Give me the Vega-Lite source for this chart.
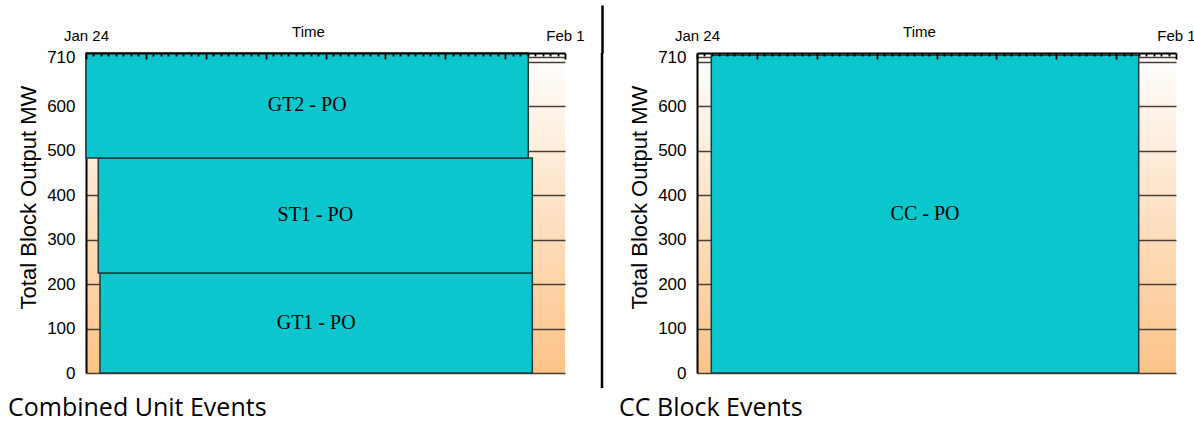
{
  "$schema": "https://vega.github.io/schema/vega-lite/v6.json",
  "background": "white",
  "padding": {"left": 8, "top": 3, "right": 5, "bottom": 0},
  "spacing": 15,
  "config": {
    "view": {"stroke": null},
    "font": "Liberation Sans"
  },
  "hconcat": [
    {
      "width": 479,
      "height": 320,
      "view": {"stroke": null, "fill": {"gradient": "linear", "x1": 0, "y1": 0, "x2": 0, "y2": 1, "stops": [{"offset": 0, "color": "#ffffff"}, {"offset": 1, "color": "#fcc388"}]}},
      "title": {"text": "Combined Unit Events", "orient": "bottom", "anchor": "start", "frame": "group", "dx": -78, "offset": 35, "baseline": "alphabetic", "font": "Open Sans", "fontSize": 25, "fontWeight": "normal", "color": "black"},
      "data": {
        "values": [
          {"label": "GT1 - PO", "start": "2011-01-24T05:36", "end": "2011-01-31T10:54", "lo": 0, "hi": 225},
          {"label": "ST1 - PO", "start": "2011-01-24T04:55", "end": "2011-01-31T10:54", "lo": 225, "hi": 484},
          {"label": "GT2 - PO", "start": "2011-01-24T00:00", "end": "2011-01-31T09:17", "lo": 484, "hi": 720}
        ],
        "format": {"parse": {"start": "date", "end": "date"}}
      },
      "layer": [
        {
          "mark": {"type": "rect", "fill": "#0bc6cc", "stroke": "#1f3b3b", "strokeWidth": 1.5},
          "encoding": {
            "x": {"field": "start", "type": "temporal",
              "scale": {"domain": [{"year": 2011, "month": 1, "date": 24}, {"year": 2011, "month": 2, "date": 1}]},
              "axis": {"orient": "top", "zindex": 1, "tickCount": 100,
                "values": [
                  {"year": 2011, "month": 1, "date": 24, "hours": 0}, {"year": 2011, "month": 1, "date": 24, "hours": 3}, {"year": 2011, "month": 1, "date": 24, "hours": 6}, {"year": 2011, "month": 1, "date": 24, "hours": 9}, {"year": 2011, "month": 1, "date": 24, "hours": 12}, {"year": 2011, "month": 1, "date": 24, "hours": 15}, {"year": 2011, "month": 1, "date": 24, "hours": 18}, {"year": 2011, "month": 1, "date": 24, "hours": 21},
                  {"year": 2011, "month": 1, "date": 25, "hours": 0}, {"year": 2011, "month": 1, "date": 25, "hours": 3}, {"year": 2011, "month": 1, "date": 25, "hours": 6}, {"year": 2011, "month": 1, "date": 25, "hours": 9}, {"year": 2011, "month": 1, "date": 25, "hours": 12}, {"year": 2011, "month": 1, "date": 25, "hours": 15}, {"year": 2011, "month": 1, "date": 25, "hours": 18}, {"year": 2011, "month": 1, "date": 25, "hours": 21},
                  {"year": 2011, "month": 1, "date": 26, "hours": 0}, {"year": 2011, "month": 1, "date": 26, "hours": 3}, {"year": 2011, "month": 1, "date": 26, "hours": 6}, {"year": 2011, "month": 1, "date": 26, "hours": 9}, {"year": 2011, "month": 1, "date": 26, "hours": 12}, {"year": 2011, "month": 1, "date": 26, "hours": 15}, {"year": 2011, "month": 1, "date": 26, "hours": 18}, {"year": 2011, "month": 1, "date": 26, "hours": 21},
                  {"year": 2011, "month": 1, "date": 27, "hours": 0}, {"year": 2011, "month": 1, "date": 27, "hours": 3}, {"year": 2011, "month": 1, "date": 27, "hours": 6}, {"year": 2011, "month": 1, "date": 27, "hours": 9}, {"year": 2011, "month": 1, "date": 27, "hours": 12}, {"year": 2011, "month": 1, "date": 27, "hours": 15}, {"year": 2011, "month": 1, "date": 27, "hours": 18}, {"year": 2011, "month": 1, "date": 27, "hours": 21},
                  {"year": 2011, "month": 1, "date": 28, "hours": 0}, {"year": 2011, "month": 1, "date": 28, "hours": 3}, {"year": 2011, "month": 1, "date": 28, "hours": 6}, {"year": 2011, "month": 1, "date": 28, "hours": 9}, {"year": 2011, "month": 1, "date": 28, "hours": 12}, {"year": 2011, "month": 1, "date": 28, "hours": 15}, {"year": 2011, "month": 1, "date": 28, "hours": 18}, {"year": 2011, "month": 1, "date": 28, "hours": 21},
                  {"year": 2011, "month": 1, "date": 29, "hours": 0}, {"year": 2011, "month": 1, "date": 29, "hours": 3}, {"year": 2011, "month": 1, "date": 29, "hours": 6}, {"year": 2011, "month": 1, "date": 29, "hours": 9}, {"year": 2011, "month": 1, "date": 29, "hours": 12}, {"year": 2011, "month": 1, "date": 29, "hours": 15}, {"year": 2011, "month": 1, "date": 29, "hours": 18}, {"year": 2011, "month": 1, "date": 29, "hours": 21},
                  {"year": 2011, "month": 1, "date": 30, "hours": 0}, {"year": 2011, "month": 1, "date": 30, "hours": 3}, {"year": 2011, "month": 1, "date": 30, "hours": 6}, {"year": 2011, "month": 1, "date": 30, "hours": 9}, {"year": 2011, "month": 1, "date": 30, "hours": 12}, {"year": 2011, "month": 1, "date": 30, "hours": 15}, {"year": 2011, "month": 1, "date": 30, "hours": 18}, {"year": 2011, "month": 1, "date": 30, "hours": 21},
                  {"year": 2011, "month": 1, "date": 31, "hours": 0}, {"year": 2011, "month": 1, "date": 31, "hours": 3}, {"year": 2011, "month": 1, "date": 31, "hours": 6}, {"year": 2011, "month": 1, "date": 31, "hours": 9}, {"year": 2011, "month": 1, "date": 31, "hours": 12}, {"year": 2011, "month": 1, "date": 31, "hours": 15}, {"year": 2011, "month": 1, "date": 31, "hours": 18}, {"year": 2011, "month": 1, "date": 31, "hours": 21},
                  {"year": 2011, "month": 2, "date": 1, "hours": 0}
                ],
                "labelExpr": "timeFormat(datum.value, '%m-%d %H') == '01-24 00' ? 'Jan 24' : (timeFormat(datum.value, '%m-%d %H') == '02-01 00' ? 'Feb 1' : '')",
                "tickSize": -6, "tickWidth": 1.8, "tickColor": "black",
                "tickDash": {"condition": {"test": "hours(datum.value) != 0", "value": [3, 20]}, "value": [10, 0]},
                "domainColor": "black", "domainWidth": 2, "grid": false,
                "labelFontSize": 15, "labelColor": "black", "labelPadding": 16, "labelFlush": false, "labelOverlap": false,
                "title": "Time", "titleFontSize": 15, "titleFontWeight": "normal", "titleColor": "black", "titleX": 222, "titleY": -14}},
            "x2": {"field": "end"},
            "y": {"field": "lo", "type": "quantitative", "scale": {"domain": [0, 720], "nice": false},
              "axis": {"values": [0, 100, 200, 300, 400, 500, 600, 700, 710], "tickCount": 20,
                "labelExpr": "datum.value == 700 ? '' : datum.label",
                "grid": true, "gridColor": "#4a4036", "gridWidth": 1.4, "ticks": false,
                "domainColor": "black", "domainWidth": 2,
                "labelFontSize": 17, "labelColor": "black", "labelPadding": 11, "labelOverlap": false,
                "title": "Total Block Output MW", "titleFontSize": 22, "titleFontWeight": "normal", "titleColor": "black", "titleX": -46, "titleY": 144}},
            "y2": {"field": "hi"}
          }
        },
        {
          "transform": [
            {"fold": ["start", "end"], "as": ["edge", "t"]},
            {"fold": ["lo", "hi"], "as": ["edge2", "v"]},
            {"aggregate": [{"op": "mean", "field": "t", "as": "tm"}, {"op": "mean", "field": "v", "as": "vm"}], "groupby": ["label"]}
          ],
          "mark": {"type": "text", "font": "Liberation Serif", "fontSize": 20, "color": "black"},
          "encoding": {
            "x": {"field": "tm", "type": "temporal"},
            "y": {"field": "vm", "type": "quantitative"},
            "text": {"field": "label"}
          }
        }
      ]
    },
    {
      "width": 1,
      "height": 335,
      "data": {"values": [{"d": 0}]},
      "mark": {"type": "rule", "color": "black", "strokeWidth": 2.5},
      "encoding": {
        "x": {"field": "d", "type": "quantitative", "scale": {"domain": [0, 1]},
          "axis": {"orient": "top", "values": [0], "tickSize": 48, "tickWidth": 2.5, "tickColor": "black", "labels": false, "domain": false, "grid": false, "title": null}}
      }
    },
    {
      "width": 479,
      "height": 320,
      "view": {"stroke": null, "fill": {"gradient": "linear", "x1": 0, "y1": 0, "x2": 0, "y2": 1, "stops": [{"offset": 0, "color": "#ffffff"}, {"offset": 1, "color": "#fcc388"}]}},
      "title": {"text": "CC Block Events", "orient": "bottom", "anchor": "start", "frame": "group", "dx": -78, "offset": 35, "baseline": "alphabetic", "font": "Open Sans", "fontSize": 25, "fontWeight": "normal", "color": "black"},
      "data": {
        "values": [
          {"label": "CC - PO", "start": "2011-01-24T05:44", "end": "2011-01-31T09:03", "lo": 0, "hi": 715}
        ],
        "format": {"parse": {"start": "date", "end": "date"}}
      },
      "layer": [
        {
          "mark": {"type": "rect", "fill": "#0bc6cc", "stroke": "#1f3b3b", "strokeWidth": 1.5},
          "encoding": {
            "x": {"field": "start", "type": "temporal",
              "scale": {"domain": [{"year": 2011, "month": 1, "date": 24}, {"year": 2011, "month": 2, "date": 1}]},
              "axis": {"orient": "top", "zindex": 1, "tickCount": 100,
                "values": [
                  {"year": 2011, "month": 1, "date": 24, "hours": 0}, {"year": 2011, "month": 1, "date": 24, "hours": 3}, {"year": 2011, "month": 1, "date": 24, "hours": 6}, {"year": 2011, "month": 1, "date": 24, "hours": 9}, {"year": 2011, "month": 1, "date": 24, "hours": 12}, {"year": 2011, "month": 1, "date": 24, "hours": 15}, {"year": 2011, "month": 1, "date": 24, "hours": 18}, {"year": 2011, "month": 1, "date": 24, "hours": 21},
                  {"year": 2011, "month": 1, "date": 25, "hours": 0}, {"year": 2011, "month": 1, "date": 25, "hours": 3}, {"year": 2011, "month": 1, "date": 25, "hours": 6}, {"year": 2011, "month": 1, "date": 25, "hours": 9}, {"year": 2011, "month": 1, "date": 25, "hours": 12}, {"year": 2011, "month": 1, "date": 25, "hours": 15}, {"year": 2011, "month": 1, "date": 25, "hours": 18}, {"year": 2011, "month": 1, "date": 25, "hours": 21},
                  {"year": 2011, "month": 1, "date": 26, "hours": 0}, {"year": 2011, "month": 1, "date": 26, "hours": 3}, {"year": 2011, "month": 1, "date": 26, "hours": 6}, {"year": 2011, "month": 1, "date": 26, "hours": 9}, {"year": 2011, "month": 1, "date": 26, "hours": 12}, {"year": 2011, "month": 1, "date": 26, "hours": 15}, {"year": 2011, "month": 1, "date": 26, "hours": 18}, {"year": 2011, "month": 1, "date": 26, "hours": 21},
                  {"year": 2011, "month": 1, "date": 27, "hours": 0}, {"year": 2011, "month": 1, "date": 27, "hours": 3}, {"year": 2011, "month": 1, "date": 27, "hours": 6}, {"year": 2011, "month": 1, "date": 27, "hours": 9}, {"year": 2011, "month": 1, "date": 27, "hours": 12}, {"year": 2011, "month": 1, "date": 27, "hours": 15}, {"year": 2011, "month": 1, "date": 27, "hours": 18}, {"year": 2011, "month": 1, "date": 27, "hours": 21},
                  {"year": 2011, "month": 1, "date": 28, "hours": 0}, {"year": 2011, "month": 1, "date": 28, "hours": 3}, {"year": 2011, "month": 1, "date": 28, "hours": 6}, {"year": 2011, "month": 1, "date": 28, "hours": 9}, {"year": 2011, "month": 1, "date": 28, "hours": 12}, {"year": 2011, "month": 1, "date": 28, "hours": 15}, {"year": 2011, "month": 1, "date": 28, "hours": 18}, {"year": 2011, "month": 1, "date": 28, "hours": 21},
                  {"year": 2011, "month": 1, "date": 29, "hours": 0}, {"year": 2011, "month": 1, "date": 29, "hours": 3}, {"year": 2011, "month": 1, "date": 29, "hours": 6}, {"year": 2011, "month": 1, "date": 29, "hours": 9}, {"year": 2011, "month": 1, "date": 29, "hours": 12}, {"year": 2011, "month": 1, "date": 29, "hours": 15}, {"year": 2011, "month": 1, "date": 29, "hours": 18}, {"year": 2011, "month": 1, "date": 29, "hours": 21},
                  {"year": 2011, "month": 1, "date": 30, "hours": 0}, {"year": 2011, "month": 1, "date": 30, "hours": 3}, {"year": 2011, "month": 1, "date": 30, "hours": 6}, {"year": 2011, "month": 1, "date": 30, "hours": 9}, {"year": 2011, "month": 1, "date": 30, "hours": 12}, {"year": 2011, "month": 1, "date": 30, "hours": 15}, {"year": 2011, "month": 1, "date": 30, "hours": 18}, {"year": 2011, "month": 1, "date": 30, "hours": 21},
                  {"year": 2011, "month": 1, "date": 31, "hours": 0}, {"year": 2011, "month": 1, "date": 31, "hours": 3}, {"year": 2011, "month": 1, "date": 31, "hours": 6}, {"year": 2011, "month": 1, "date": 31, "hours": 9}, {"year": 2011, "month": 1, "date": 31, "hours": 12}, {"year": 2011, "month": 1, "date": 31, "hours": 15}, {"year": 2011, "month": 1, "date": 31, "hours": 18}, {"year": 2011, "month": 1, "date": 31, "hours": 21},
                  {"year": 2011, "month": 2, "date": 1, "hours": 0}
                ],
                "labelExpr": "timeFormat(datum.value, '%m-%d %H') == '01-24 00' ? 'Jan 24' : (timeFormat(datum.value, '%m-%d %H') == '02-01 00' ? 'Feb 1' : '')",
                "tickSize": -6, "tickWidth": 1.8, "tickColor": "black",
                "tickDash": {"condition": {"test": "hours(datum.value) != 0", "value": [3, 20]}, "value": [10, 0]},
                "domainColor": "black", "domainWidth": 2, "grid": false,
                "labelFontSize": 15, "labelColor": "black", "labelPadding": 16, "labelFlush": false, "labelOverlap": false,
                "title": "Time", "titleFontSize": 15, "titleFontWeight": "normal", "titleColor": "black", "titleX": 222, "titleY": -14}},
            "x2": {"field": "end"},
            "y": {"field": "lo", "type": "quantitative", "scale": {"domain": [0, 720], "nice": false},
              "axis": {"values": [0, 100, 200, 300, 400, 500, 600, 700, 710], "tickCount": 20,
                "labelExpr": "datum.value == 700 ? '' : datum.label",
                "grid": true, "gridColor": "#4a4036", "gridWidth": 1.4, "ticks": false,
                "domainColor": "black", "domainWidth": 2,
                "labelFontSize": 17, "labelColor": "black", "labelPadding": 11, "labelOverlap": false,
                "title": "Total Block Output MW", "titleFontSize": 22, "titleFontWeight": "normal", "titleColor": "black", "titleX": -46, "titleY": 144}},
            "y2": {"field": "hi"}
          }
        },
        {
          "transform": [
            {"fold": ["start", "end"], "as": ["edge", "t"]},
            {"fold": ["lo", "hi"], "as": ["edge2", "v"]},
            {"aggregate": [{"op": "mean", "field": "t", "as": "tm"}, {"op": "mean", "field": "v", "as": "vm"}], "groupby": ["label"]}
          ],
          "mark": {"type": "text", "font": "Liberation Serif", "fontSize": 20, "color": "black"},
          "encoding": {
            "x": {"field": "tm", "type": "temporal"},
            "y": {"field": "vm", "type": "quantitative"},
            "text": {"field": "label"}
          }
        }
      ]
    }
  ]
}
